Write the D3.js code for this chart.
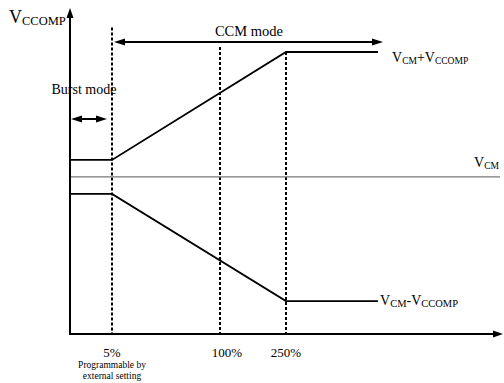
<!DOCTYPE html>
<html>
<head>
<meta charset="utf-8">
<script src="https://cdn.jsdelivr.net/npm/d3@7"></script>
<style>
  body { margin: 0; background: #fff; }
</style>
</head>
<body>
<div id="chart"></div>
<script>
var svgWidth = 504;
var svgHeight = 383;
var serif = "'Liberation Serif', 'DejaVu Serif', serif";

// load (%) breakpoints of the curves
var loadPoints = [0, 5, 250, 350];
// compensation level relative to VCM (arbitrary units)
var upperValues = [1, 1, 7.35, 7.35];
var lowerValues = [-1, -1, -7.3, -7.3];
var vcmValue = 0;

// dashed markers on the x axis
var tickValues = [5, 100, 250];
var tickLabels = ["5%", "100%", "250%"];
var dashTops = [8.8, 7.65, 7.35];

var svg = d3.select("#chart")
    .append("svg")
    .attr("width", svgWidth)
    .attr("height", svgHeight)
    .style("font-family", serif);

// piecewise x scale (axis is not to scale in the drawing)
var xScale = d3.scaleLinear()
    .domain([0, 5, 100, 250, 486])
    .range([70, 112, 220, 286, 503]);

var yScale = d3.scaleLinear()
    .domain([-9.24, 9.94])
    .range([334, 8]);

var g = svg.append("g");

// filled triangle with its tip at (x, y), pointing along angle (deg)
function arrowHead(x, y, angle, len, half) {
    g.append("path")
        .attr("d", `M0,0 L${-len},${-half} L${-len},${half} Z`)
        .attr("transform", `translate(${x},${y}) rotate(${angle})`)
        .attr("fill", "#000");
}

// dashed vertical lines
g.selectAll("line.dash")
    .data(tickValues)
    .enter()
    .append("line")
    .attr("class", "dash")
    .attr("x1", d => xScale(d))
    .attr("x2", d => xScale(d))
    .attr("y1", (d, i) => yScale(dashTops[i]))
    .attr("y2", yScale(-9.24))
    .attr("stroke", "#000")
    .attr("stroke-width", 2)
    .attr("stroke-dasharray", "3,2");

// VCM line
g.append("line")
    .attr("x1", xScale(0))
    .attr("x2", 500)
    .attr("y1", yScale(vcmValue))
    .attr("y2", yScale(vcmValue))
    .attr("stroke", "#777")
    .attr("stroke-width", 1.3);

var line = d3.line()
    .x(d => xScale(d[0]))
    .y(d => yScale(d[1]));

g.append("path")
    .datum(d3.zip(loadPoints, upperValues))
    .attr("d", line)
    .attr("fill", "none")
    .attr("stroke", "#000")
    .attr("stroke-width", 1.8);

g.append("path")
    .datum(d3.zip(loadPoints, lowerValues))
    .attr("d", line)
    .attr("fill", "none")
    .attr("stroke", "#000")
    .attr("stroke-width", 1.8);

// axes
var x0 = xScale(0), yb = yScale(-9.24), yt = yScale(9.94), xr = xScale(486);
g.append("line")
    .attr("x1", x0).attr("y1", yb + 1)
    .attr("x2", x0).attr("y2", yt + 8)
    .attr("stroke", "#000").attr("stroke-width", 2);
arrowHead(x0, yt, -90, 10, 3.5);
g.append("line")
    .attr("x1", x0 - 1).attr("y1", yb)
    .attr("x2", xr - 8).attr("y2", yb)
    .attr("stroke", "#000").attr("stroke-width", 2);
arrowHead(xr, yb, 0, 10, 3.5);

// mode arrows (double headed)
function doubleArrow(xa, xb, y) {
    g.append("line")
        .attr("x1", xa + 8).attr("y1", y)
        .attr("x2", xb - 8).attr("y2", y)
        .attr("stroke", "#000").attr("stroke-width", 2);
    arrowHead(xa, y, 180, 11, 3.5);
    arrowHead(xb, y, 0, 11, 3.5);
}
doubleArrow(xScale(5) + 2, 383, 42);
doubleArrow(x0 + 1, 107, 119);

function txt(x, y, s, size, anchor) {
    return g.append("text")
        .attr("x", x).attr("y", y)
        .attr("text-anchor", anchor || "middle")
        .attr("font-family", serif)
        .attr("font-size", size)
        .attr("fill", "#000")
        .text(s);
}

txt(249, 36, "CCM mode", "14.5px");
txt(84, 94, "Burst mode", "14px");

// tick labels (the 100% label sits a little right of its line)
tickValues.forEach(function (d, i) {
    txt(xScale(d) + (d === 100 ? 7 : 0), 357, tickLabels[i], "13px");
});

txt(xScale(5), 368, "Programmable by", "9.5px");
txt(xScale(5), 379, "external setting", "9.5px");

// labels with subscripts
function subLabel(x, y, parts, big, small) {
    var t = g.append("text").attr("x", x).attr("y", y)
        .attr("font-family", serif).attr("fill", "#000");
    parts.forEach(function (p) {
        t.append("tspan")
            .attr("font-size", p.sub ? small : big)
            .attr("dy", p.dy || 0)
            .text(p.t);
    });
}

subLabel(9, 23, [{ t: "V" }, { t: "CCOMP", sub: true, dy: 2 }], "18px", "12.5px");
subLabel(392, 62, [{ t: "V" }, { t: "CM", sub: true, dy: 2 }, { t: "+V", dy: -2 }, { t: "CCOMP", sub: true, dy: 2 }], "14px", "9.5px");
subLabel(474, 167, [{ t: "V" }, { t: "CM", sub: true, dy: 2 }], "14px", "9.5px");
subLabel(380, 305, [{ t: "V" }, { t: "CM", sub: true, dy: 2 }, { t: "-V", dy: -2 }, { t: "CCOMP", sub: true, dy: 2 }], "14px", "10.5px");
</script>
</body>
</html>
